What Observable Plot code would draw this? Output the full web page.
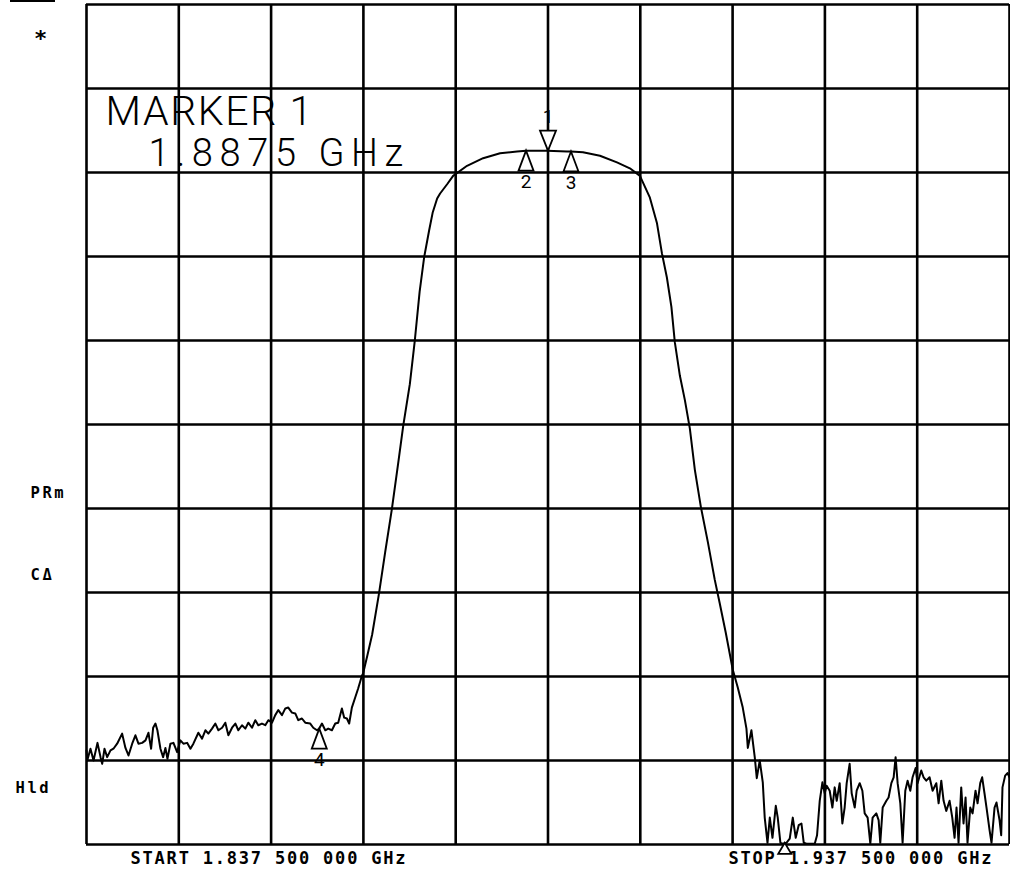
<!DOCTYPE html>
<html><head><meta charset="utf-8">
<script src="https://cdn.jsdelivr.net/npm/d3@7"></script>
<script src="https://cdn.jsdelivr.net/npm/@observablehq/plot@0.6"></script>
<style>
body{margin:0;background:#fff;}
#chart{position:relative;width:1010px;height:870px;overflow:hidden;}
#chart svg{display:block;}
#corner{position:absolute;left:10px;top:0;width:45px;height:2px;background:#000;}
</style></head><body><div id="chart"><div id="corner"></div></div>
<script>
// Trace: frequency (MHz) and level (dB, 10 dB/div, top line = 0 dB)
const freqMHz = [
1837.50,1837.58,1837.93,1838.26,1838.69,1839.02,1839.20,1839.45,1839.74,1840.10,
1840.42,1840.82,1841.36,1841.72,1842.05,1842.45,1842.80,1843.13,1843.53,1843.89,
1844.21,1844.50,1844.72,1844.97,1845.18,1845.51,1845.80,1846.05,1846.27,1846.59,
1846.92,1847.32,1847.67,1848.00,1848.40,1848.76,1849.08,1849.62,1850.02,1850.38,
1850.70,1851.10,1851.46,1851.79,1852.19,1852.54,1852.87,1853.27,1853.63,1853.95,
1854.35,1854.71,1855.03,1855.43,1855.79,1856.11,1856.51,1856.87,1857.20,1857.60,
1857.95,1858.28,1858.68,1859.04,1859.36,1859.76,1860.12,1860.44,1860.84,1861.20,
1861.74,1862.07,1862.47,1862.72,1863.01,1863.37,1863.69,1864.09,1864.45,1864.77,
1865.17,1865.42,1865.71,1865.96,1866.25,1866.61,1866.94,1867.34,1867.48,1867.69,
1867.91,1868.45,1869.18,1869.86,1870.58,1871.27,1871.81,1872.53,1873.06,1873.59,
1874.08,1874.62,1875.00,1875.49,1875.81,1876.57,1877.22,1878.73,1880.47,1882.31,
1884.15,1885.12,1885.88,1887.39,1889.56,1889.99,1891.29,1893.13,1894.97,1896.37,
1897.46,1898.54,1899.30,1899.84,1900.38,1900.87,1901.24,1901.79,1902.33,1902.87,
1903.41,1904.06,1904.82,1905.57,1906.11,1906.76,1907.52,1908.06,1908.60,1909.00,
1909.15,1909.54,1909.90,1910.12,1910.44,1910.77,1910.98,1911.28,1911.53,1911.82,
1912.18,1912.39,1912.68,1912.93,1913.33,1913.69,1914.02,1914.34,1914.66,1914.96,
1915.21,1915.50,1916.40,1916.65,1916.94,1917.23,1917.48,1917.69,1918.02,1918.31,
1918.56,1918.78,1919.10,1919.39,1919.64,1919.86,1920.18,1920.40,1920.73,1920.94,
1921.27,1921.56,1921.81,1922.13,1922.42,1922.67,1923.07,1923.32,1923.50,1923.76,
1924.16,1924.40,1924.70,1924.95,1925.16,1925.38,1925.67,1925.92,1926.21,1926.46,
1926.75,1927.00,1927.33,1927.54,1927.94,1928.19,1928.48,1928.84,1929.17,1929.57,
1929.82,1930.11,1930.36,1930.65,1931.01,1931.30,1931.55,1931.76,1931.98,1932.27,
1932.52,1932.74,1932.95,1933.25,1933.50,1933.82,1934.04,1934.33,1934.54,1934.79,
1935.01,1935.34,1935.55,1935.88,1936.09,1936.42,1936.60,1936.74,1937.03,1937.28,
1937.50];
const levelDb = [
-88.8,-90.0,-88.6,-90.0,-87.9,-89.6,-90.4,-88.6,-89.6,-88.8,
-88.6,-88.0,-86.8,-88.5,-89.4,-88.0,-87.0,-88.0,-87.9,-87.6,
-86.7,-88.6,-86.1,-85.6,-86.4,-88.6,-89.6,-88.5,-89.8,-88.0,
-87.9,-89.0,-87.6,-88.0,-87.9,-88.6,-88.0,-86.7,-87.4,-86.4,
-86.8,-86.2,-85.6,-86.4,-86.1,-85.5,-87.0,-86.1,-85.6,-86.4,
-85.8,-86.2,-85.5,-86.1,-85.2,-85.8,-85.6,-85.8,-85.2,-85.5,
-84.6,-84.0,-84.6,-83.8,-83.7,-84.3,-84.4,-85.2,-85.0,-85.5,
-85.6,-86.1,-86.4,-86.2,-85.6,-86.4,-86.2,-86.4,-85.6,-85.5,
-83.8,-84.9,-85.0,-85.6,-83.7,-82.5,-81.4,-79.9,-79.6,-78.6,
-77.6,-75.0,-70.2,-65.2,-60.1,-54.6,-50.2,-45.2,-40.1,-34.2,
-30.1,-26.9,-24.8,-23.1,-22.5,-21.4,-20.4,-19.2,-18.3,-17.7,
-17.5,-17.4,-17.4,-17.4,-17.5,-17.5,-17.6,-18.0,-18.8,-19.5,
-20.4,-23.0,-26.0,-29.6,-32.5,-36.0,-40.2,-44.2,-47.1,-50.5,
-55.4,-59.8,-64.0,-68.5,-71.3,-74.8,-79.2,-81.3,-83.7,-86.2,
-88.5,-86.4,-89.6,-92.1,-90.0,-92.6,-96.8,-99.8,-96.8,-99.2,
-95.4,-96.8,-99.8,-99.9,-99.8,-99.3,-96.8,-99.2,-97.7,-97.5,
-99.8,-99.9,-99.9,-98.9,-94.8,-92.6,-93.9,-93.0,-93.6,-95.6,
-93.2,-94.8,-92.7,-97.5,-95.6,-92.7,-90.4,-93.9,-95.6,-93.6,
-92.7,-93.6,-96.3,-96.8,-99.9,-96.8,-96.3,-97.1,-99.8,-95.6,
-94.8,-94.4,-92.7,-92.0,-89.6,-92.7,-95.1,-99.8,-93.6,-92.4,
-93.6,-92.0,-90.9,-92.7,-91.2,-92.0,-92.4,-92.0,-93.6,-92.7,
-95.1,-92.4,-94.8,-96.0,-94.8,-96.8,-99.2,-95.6,-99.8,-93.2,
-97.5,-94.4,-99.8,-95.6,-96.3,-93.6,-95.1,-92.7,-92.0,-93.9,
-95.6,-98.3,-99.8,-95.6,-95.0,-97.1,-98.9,-93.2,-91.8,-91.5,
-92.0];

// Markers
const markerIds = ["1", "2", "3", "4"];
const markerFreqMHz = [1887.5, 1885.12, 1889.99, 1862.72];
const markerDb = [-17.4, -17.4, -17.5, -86.2];
const refMarkerFreqMHz = [1913.15];
const refMarkerDb = [-99.8];

// Grid / ticks
const xTicksMHz = [1837.5,1847.5,1857.5,1867.5,1877.5,1887.5,1897.5,1907.5,1917.5,1927.5,1937.5];
const yTicksDb = [0,-10,-20,-30,-40,-50,-60,-70,-80,-90,-100];

// Texts
const readoutLine1 = "MARKER 1";
const readoutLine2 = "1.8875 GHz";
const startLabel = "START 1.837 500 000 GHz";
const stopLabel = "STOP 1.937 500 000 GHz";
const sideLabels = ["*", "PRm", "C\u0394", "Hld"];

const trace = freqMHz.map((f, i) => ({f, db: levelDb[i]}));
const markers = markerIds.map((id, i) => ({id, f: markerFreqMHz[i], db: markerDb[i]}));
const refMarkers = refMarkerFreqMHz.map((f, i) => ({f, db: refMarkerDb[i]}));

const triUp = {draw(c){ c.moveTo(0,0); c.lineTo(-7.5,20); c.lineTo(7.5,20); c.closePath(); }};
const triDown = {draw(c){ c.moveTo(0,0); c.lineTo(-8,-20); c.lineTo(8,-20); c.closePath(); }};
const triSmall = {draw(c){ c.moveTo(0,0); c.lineTo(-6.5,11); c.lineTo(6.5,11); c.closePath(); }};

const thinFont = "Roboto, 'DejaVu Sans', sans-serif";
const monoFont = "'DejaVu Sans Mono', 'Liberation Mono', monospace";

const plot = Plot.plot({
  width: 1010,
  height: 870,
  marginTop: 4,
  marginBottom: 26,
  marginLeft: 86,
  marginRight: 1,
  x: {domain: [1837.5, 1937.5], axis: null},
  y: {domain: [-100, 0], axis: null},
  style: {background: "#fff", color: "#000", overflow: "visible"},
  marks: [
    Plot.ruleX(xTicksMHz, {stroke: "#000", strokeWidth: 2.6}),
    Plot.ruleY(yTicksDb, {stroke: "#000", strokeWidth: 2.6}),
    Plot.line(trace, {x: "f", y: "db", stroke: "#000", strokeWidth: 2}),
    Plot.dot(markers.filter(d => d.id !== "1"), {x: "f", y: "db", symbol: triUp, fill: "#fff", stroke: "#000", strokeWidth: 1.8}),
    Plot.dot(markers.filter(d => d.id === "1"), {x: "f", y: "db", symbol: triDown, fill: "#fff", stroke: "#000", strokeWidth: 1.8}),
    Plot.dot(refMarkers, {x: "f", y: "db", symbol: triSmall, fill: "#fff", stroke: "#000", strokeWidth: 1.8}),
    Plot.text(markers.filter(d => d.id !== "1"), {x: "f", y: "db", text: "id", dy: 31, fontSize: 19, fontFamily: thinFont, fontWeight: 400, fill: "#000"}),
    Plot.text(markers.filter(d => d.id === "1"), {x: "f", y: "db", text: "id", dy: -34, fontSize: 19, fontFamily: thinFont, fontWeight: 400, fill: "#000"}),
    Plot.text([readoutLine1], {text: d => d, frameAnchor: "top-left", textAnchor: "start", lineAnchor: "middle", dx: 19, dy: 107, fontSize: 41, fontFamily: thinFont, fontWeight: 300, fill: "#000"}),
    Plot.text([readoutLine2], {text: d => d, frameAnchor: "top-left", textAnchor: "start", lineAnchor: "middle", dx: 62, dy: 149, fontSize: 38, fontFamily: thinFont, fontWeight: 300, fill: "#000"}),
    Plot.text([startLabel], {text: d => d, frameAnchor: "bottom-left", textAnchor: "start", lineAnchor: "middle", dx: 44, dy: 14, fontSize: 17, fontFamily: monoFont, fontWeight: "bold", fill: "#000"}),
    Plot.text([stopLabel], {text: d => d, frameAnchor: "bottom-left", textAnchor: "start", lineAnchor: "middle", dx: 642, dy: 14, fontSize: 17, fontFamily: monoFont, fontWeight: "bold", fill: "#000"}),
    Plot.text([sideLabels[0]], {text: d => d, frameAnchor: "top-left", textAnchor: "middle", lineAnchor: "middle", dx: -46, dy: 34, fontSize: 22, fontFamily: monoFont, fontWeight: "bold", fill: "#000"}),
    Plot.text([sideLabels[1]], {text: d => d, frameAnchor: "top-left", textAnchor: "start", lineAnchor: "middle", dx: -56, dy: 489, fontSize: 15.5, fontFamily: monoFont, fontWeight: "bold", fill: "#000"}),
    Plot.text([sideLabels[2]], {text: d => d, frameAnchor: "top-left", textAnchor: "start", lineAnchor: "middle", dx: -56, dy: 571, fontSize: 15.5, fontFamily: monoFont, fontWeight: "bold", fill: "#000"}),
    Plot.text([sideLabels[3]], {text: d => d, frameAnchor: "top-left", textAnchor: "start", lineAnchor: "middle", dx: -71, dy: 784, fontSize: 15.5, fontFamily: monoFont, fontWeight: "bold", fill: "#000"})
  ]
});
document.getElementById("chart").appendChild(plot);

// letter spacing tweaks (text styling only)
const spacing = new Map([
  [startLabel, 1.8], [stopLabel, 1.8],
  [sideLabels[1], 2.6], [sideLabels[2], 2.6], [sideLabels[3], 2.6],
  [readoutLine1, 1.6], [readoutLine2, 6.6]
]);
d3.select(plot).selectAll("text").each(function() {
  const s = spacing.get(this.textContent);
  if (s != null) this.style.letterSpacing = s + "px";
});
</script>
</body></html>
